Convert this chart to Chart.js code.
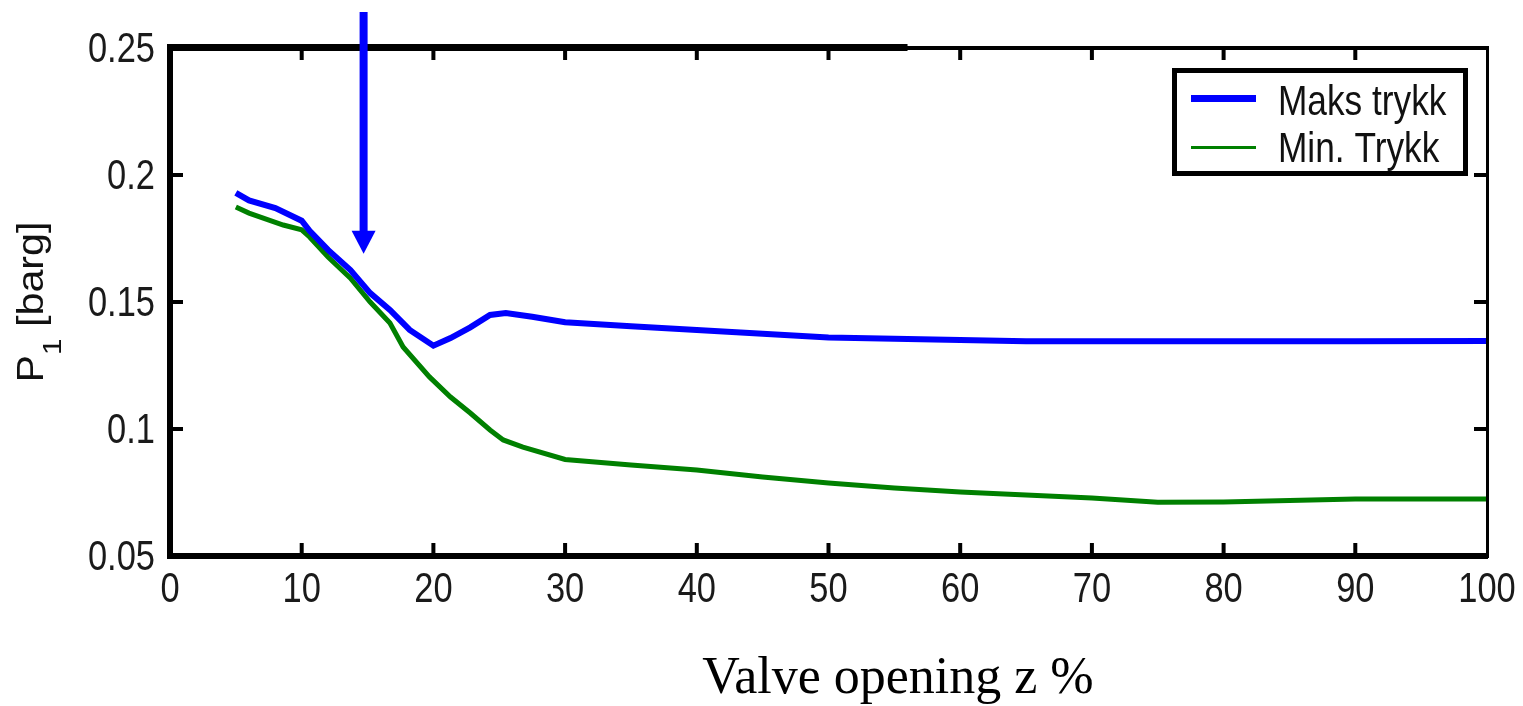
<!DOCTYPE html>
<html>
<head>
<meta charset="utf-8">
<script src="https://cdn.jsdelivr.net/npm/chart.js@4.4.1/dist/chart.umd.min.js"></script>
<style>
  html, body { margin: 0; padding: 0; background: #fff; }
  #wrap { width: 1523px; height: 706px; position: relative; }
</style>
</head>
<body>
<div id="wrap"><canvas id="chart"></canvas></div>
<script>
// valve opening z (%)
const maksX = [5, 6, 8, 10, 10.6, 12, 13.7, 15.2, 16.7, 18.2, 20, 21.3, 22.8, 24.3, 25.5, 27.5, 30, 35, 40, 45, 50, 55, 60, 65, 70, 80, 90, 100];
const maksY = [0.193, 0.190, 0.187, 0.182, 0.178, 0.1705, 0.1626, 0.1535, 0.1469, 0.139, 0.1328, 0.1358, 0.140, 0.1449, 0.1457, 0.1442, 0.1420, 0.1405, 0.139, 0.1375, 0.1360, 0.1355, 0.1350, 0.1345, 0.1345, 0.1345, 0.1345, 0.1346];

const minX = [5, 6, 8.6, 10, 10.6, 12, 13.7, 15.2, 16.7, 17.7, 19.7, 21.3, 22.8, 24.3, 25.3, 26.8, 30, 35, 40, 45, 50, 55, 60, 65, 70, 75, 80, 90, 100];
const minY = [0.1874, 0.185, 0.1803, 0.1784, 0.1756, 0.1677, 0.1594, 0.150, 0.1417, 0.1323, 0.1205, 0.1126, 0.1063, 0.0996, 0.0957, 0.0929, 0.0880, 0.0858, 0.0839, 0.0811, 0.0787, 0.0768, 0.0752, 0.074, 0.0728, 0.0712, 0.0713, 0.0724, 0.0724];

const yTickLabels = ['0.05', '0.1', '0.15', '0.2', '0.25'];
const xTickLabels = ['0', '10', '20', '30', '40', '50', '60', '70', '80', '90', '100'];
const seriesNames = ['Maks trykk', 'Min. Trykk'];
const arrowAt = 14.7;       // z where the arrow points
const arrowTip = 0.169;     // pressure at arrow head

const sans = '"Liberation Sans", Arial, sans-serif';

const toPoints = (xs, ys) => xs.map((x, i) => ({ x: x, y: ys[i] }));

// Liberation Sans squeezed sideways to look like the narrow face of the original
function narrowText(c, text, x, y, align, size) {
    c.save();
    c.font = size + 'px ' + sans;
    c.textAlign = align;
    c.textBaseline = 'alphabetic';
    c.translate(x, y);
    c.scale(0.82, 1);
    c.fillText(text, 0, 0);
    c.restore();
}

// frame, inward ticks, tick labels, arrow, legend and titles
const decorations = {
    id: 'decorations',
    afterDraw(chart) {
        const c = chart.ctx;
        const a = chart.chartArea;
        const xs = chart.scales.x;
        const ys = chart.scales.y;
        c.save();
        c.fillStyle = '#000';

        // frame: thick left/bottom, top thick only part way, thin right
        c.fillRect(a.left - 3, a.top - 3, 6, a.bottom - a.top + 6);
        c.fillRect(a.left - 3, a.bottom - 3, a.right - a.left + 4, 6);
        c.fillRect(a.left - 3, a.top - 4, xs.getPixelForValue(56) - a.left + 3, 7);
        c.fillRect(a.left, a.top - 2, a.right - a.left + 2, 4);
        c.fillRect(a.right - 1, a.top - 2, 3, a.bottom - a.top + 4);

        // inward ticks
        xTickLabels.forEach((t, i) => {
            const px = xs.getPixelForValue(Number(t));
            if (i === 0 || i === xTickLabels.length - 1) return;
            c.fillRect(px - 2, a.bottom - 13, 4, 11);
            c.fillRect(px - 2, a.top + 1, 4, 11);
        });
        yTickLabels.forEach((t, i) => {
            const py = ys.getPixelForValue(Number(t));
            if (i === 0 || i === yTickLabels.length - 1) return;
            c.fillRect(a.left + 2, py - 2, 11, 4);
            c.fillRect(a.right - 13, py - 2, 12, 4);
        });

        // tick labels
        c.fillStyle = '#1a1a1a';
        xTickLabels.forEach((t) => {
            narrowText(c, t, xs.getPixelForValue(Number(t)), a.bottom + 46, 'center', 42);
        });
        yTickLabels.forEach((t) => {
            narrowText(c, t, a.left - 15, ys.getPixelForValue(Number(t)) + 14, 'right', 42);
        });

        // blue arrow
        const ax = xs.getPixelForValue(arrowAt);
        const tip = ys.getPixelForValue(arrowTip);
        c.fillStyle = '#0000ff';
        c.fillRect(ax - 4, 12, 8, tip - 12 - 20);
        c.beginPath();
        c.moveTo(ax - 12, tip - 23);
        c.lineTo(ax + 12, tip - 23);
        c.lineTo(ax, tip);
        c.closePath();
        c.fill();

        // legend box
        c.fillStyle = '#fff';
        c.fillRect(1172, 68, 296, 108);
        c.strokeStyle = '#000';
        c.lineWidth = 5;
        c.strokeRect(1174.5, 70.5, 291, 103);
        c.fillStyle = '#0000ff';
        c.fillRect(1191, 95, 65, 7);
        c.fillStyle = '#008000';
        c.fillRect(1191, 146, 65, 3);
        c.fillStyle = '#111';
        narrowText(c, seriesNames[0], 1278, 115, 'left', 43);
        narrowText(c, seriesNames[1], 1278, 162, 'left', 43);

        // x title
        c.font = '52px "Liberation Serif", "Times New Roman", serif';
        c.textAlign = 'center';
        c.textBaseline = 'alphabetic';
        c.fillStyle = '#000';
        c.fillText('Valve opening z %', 898, 693);

        // y title with subscript, read bottom to top
        c.translate(43, (a.top + a.bottom) / 2);
        c.rotate(-Math.PI / 2);
        c.fillStyle = '#111';
        c.font = '36px ' + sans;
        const wP = c.measureText('P').width;
        const wRest = c.measureText(' [barg]').width;
        c.font = '26px ' + sans;
        const w1 = c.measureText('1').width;
        const total = wP + w1 + wRest;
        const k = 161 / total;
        c.scale(k, 1);
        const x0 = -total / 2;
        c.textAlign = 'left';
        c.font = '36px ' + sans;
        c.fillText('P', x0, 0);
        c.font = '26px ' + sans;
        c.fillText('1', x0 + wP, 18);
        c.font = '36px ' + sans;
        c.fillText(' [barg]', x0 + wP + w1, 0);
        c.restore();
    }
};

const ctx = document.getElementById('chart').getContext('2d');

const chart = new Chart(ctx, {
    type: 'line',
    data: {
        datasets: [{
            label: seriesNames[0],
            data: toPoints(maksX, maksY),
            borderColor: '#0000ff',
            borderWidth: 6,
            pointRadius: 0,
            tension: 0
        }, {
            label: seriesNames[1],
            data: toPoints(minX, minY),
            borderColor: '#008000',
            borderWidth: 5,
            pointRadius: 0,
            tension: 0
        }]
    },
    options: {
        responsive: true,
        maintainAspectRatio: false,
        animation: false,
        layout: { padding: { left: 0, top: 48, right: 36, bottom: 0 } },
        plugins: {
            legend: { display: false },
            tooltip: { enabled: false }
        },
        scales: {
            x: {
                type: 'linear',
                min: 0,
                max: 100,
                grid: { display: false, drawTicks: false },
                border: { display: false },
                afterBuildTicks: (s) => { s.ticks = xTickLabels.map(t => ({ value: Number(t) })); },
                afterFit: (s) => { s.height = 150; },
                ticks: { display: false }
            },
            y: {
                min: 0.05,
                max: 0.25,
                grid: { display: false, drawTicks: false },
                border: { display: false },
                afterBuildTicks: (s) => { s.ticks = yTickLabels.map(t => ({ value: Number(t) })); },
                afterFit: (s) => { s.width = 170; },
                ticks: { display: false }
            }
        }
    },
    plugins: [decorations]
});
</script>
</body>
</html>
